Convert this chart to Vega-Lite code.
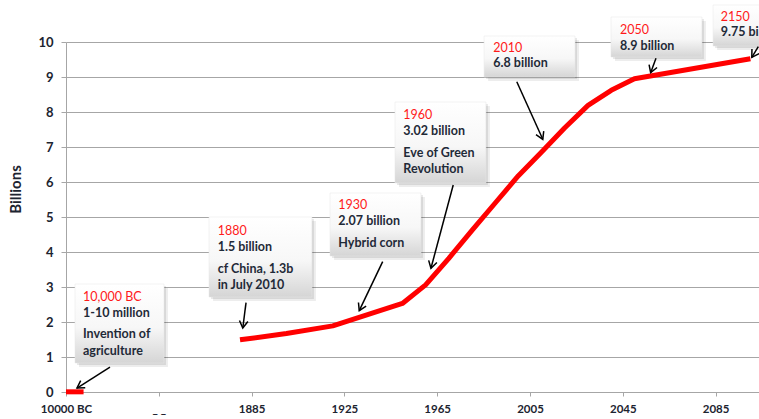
{
  "$schema": "https://vega.github.io/schema/vega-lite/v6.json",
  "width": 693,
  "height": 350,
  "autosize": "none",
  "padding": {"left": 66, "top": 42, "right": 0, "bottom": 27},
  "background": "white",
  "config": {"view": {"stroke": null}, "font": "Lato"},
  "datasets": {
    "pop": [
      {"year": -10000, "billions": 0.005, "era": "ancient"},
      {"year": -8800, "billions": 0.005, "era": "ancient"},
      {"year": 1880, "billions": 1.49, "era": "modern"},
      {"year": 1900, "billions": 1.67, "era": "modern"},
      {"year": 1920, "billions": 1.89, "era": "modern"},
      {"year": 1950, "billions": 2.53, "era": "modern"},
      {"year": 1960, "billions": 3.06, "era": "modern"},
      {"year": 1970, "billions": 3.82, "era": "modern"},
      {"year": 1980, "billions": 4.62, "era": "modern"},
      {"year": 1990, "billions": 5.4, "era": "modern"},
      {"year": 2000, "billions": 6.18, "era": "modern"},
      {"year": 2010, "billions": 6.86, "era": "modern"},
      {"year": 2020, "billions": 7.55, "era": "modern"},
      {"year": 2030, "billions": 8.19, "era": "modern"},
      {"year": 2040, "billions": 8.62, "era": "modern"},
      {"year": 2050, "billions": 8.95, "era": "modern"},
      {"year": 2100, "billions": 9.52, "era": "modern"}
    ],
    "boxes": [
      {"id": "10000BC", "year": -9386, "year2": -3309, "billions": 3.086, "billions2": 0.829},
      {"id": "1880", "year": -236, "year2": 1911.0, "billions": 5.0, "billions2": 2.714},
      {"id": "1930", "year": 1918.8, "year2": 1958.0, "billions": 5.686, "billions2": 3.886},
      {"id": "1960", "year": 1946.8, "year2": 1986.0, "billions": 8.286, "billions2": 5.971},
      {"id": "2010", "year": 1985.2, "year2": 2024.4, "billions": 10.171, "billions2": 9.0},
      {"id": "2050", "year": 2039.9, "year2": 2079.1, "billions": 10.714, "billions2": 9.571},
      {"id": "2150", "year": 2083.9, "year2": 2125, "billions": 11.057, "billions2": 9.886}
    ],
    "notes": [
      {"year": -8839, "billions": 2.723, "text": "10,000 BC", "kind": "year"},
      {"year": -8839, "billions": 2.266, "text": "1-10 million", "kind": "note"},
      {"year": -8839, "billions": 1.649, "text": "Invention of", "kind": "note"},
      {"year": -8839, "billions": 1.171, "text": "agriculture", "kind": "note"},
      {"year": 357, "billions": 4.609, "text": "1880", "kind": "year"},
      {"year": 357, "billions": 4.151, "text": "1.5 billion", "kind": "note"},
      {"year": 357, "billions": 3.506, "text": "cf China, 1.3b", "kind": "note"},
      {"year": 357, "billions": 3.057, "text": "in July 2010", "kind": "note"},
      {"year": 1922.4, "billions": 5.343, "text": "1930", "kind": "year"},
      {"year": 1922.4, "billions": 4.894, "text": "2.07 billion", "kind": "note"},
      {"year": 1922.4, "billions": 4.249, "text": "Hybrid corn", "kind": "note"},
      {"year": 1950.4, "billions": 7.914, "text": "1960", "kind": "year"},
      {"year": 1950.4, "billions": 7.466, "text": "3.02 billion", "kind": "note"},
      {"year": 1950.4, "billions": 6.82, "text": "Eve of Green", "kind": "note"},
      {"year": 1950.4, "billions": 6.371, "text": "Revolution", "kind": "note"},
      {"year": 1989.2, "billions": 9.82, "text": "2010", "kind": "year"},
      {"year": 1989.2, "billions": 9.391, "text": "6.8 billion", "kind": "note"},
      {"year": 2043.8, "billions": 10.343, "text": "2050", "kind": "year"},
      {"year": 2043.8, "billions": 9.894, "text": "8.9 billion", "kind": "note"},
      {"year": 2087.2, "billions": 10.723, "text": "2150", "kind": "year"},
      {"year": 2087.2, "billions": 10.277, "text": "9.75 billion", "kind": "note"}
    ],
    "arrows": [
      {"year": -6996, "billions": 0.714, "year2": -9249, "billions2": 0.114, "angle": 57.5},
      {"year": 1882.6, "billions": 2.551, "year2": 1881.2, "billions2": 1.829, "angle": 7.4},
      {"year": 1941.5, "billions": 3.723, "year2": 1931.4, "billions2": 2.323, "angle": 25.5},
      {"year": 1971.9, "billions": 5.914, "year2": 1962.3, "billions2": 3.534, "angle": 15},
      {"year": 1999.3, "billions": 8.866, "year2": 2010.5, "billions2": 7.22, "angle": -24.3},
      {"year": 2059.3, "billions": 9.534, "year2": 2057.0, "billions2": 9.123, "angle": 20},
      {"year": 2103.4, "billions": 9.866, "year2": 2100.6, "billions2": 9.563, "angle": 32}
    ]
  },
  "encoding": {
    "x": {
      "field": "year", "type": "quantitative",
      "scale": {"domain": [-10000, 1880, 2103.7], "range": [0, 174, 693], "nice": false, "zero": false},
      "axis": {
        "title": null,
        "values": [-10000, -3664, 1885, 1925, 1965, 2005, 2045, 2085],
        "labelExpr": "datum.value == -10000 ? '10000 BC' : datum.value < 1000 ? '_ _' : '' + datum.value",
        "grid": false,
        "domainColor": "#a6a6a6",
        "tickColor": "#a6a6a6",
        "tickSize": 4,
        "labelPadding": 7,
        "labelFont": "Lato",
        "labelFontSize": 11.5,
        "labelFontWeight": "bold",
        "labelColor": "#1c2430",
        "labelOverlap": false,
        "labelFlush": false
      }
    },
    "y": {
      "field": "billions", "type": "quantitative",
      "scale": {"domain": [0, 10], "nice": false},
      "axis": {
        "title": "Billions",
        "titleFont": "Lato",
        "titleFontSize": 15,
        "titleFontWeight": "bold",
        "titleColor": "#1c2430",
        "titleAngle": -90,
        "titleAlign": "center",
        "titleBaseline": "middle",
        "titleX": -51,
        "titleY": 147,
        "values": [0, 1, 2, 3, 4, 5, 6, 7, 8, 9, 10],
        "grid": true,
        "gridColor": "#a6a6a6",
        "gridWidth": 1,
        "domainColor": "#a6a6a6",
        "tickColor": "#a6a6a6",
        "tickSize": 5,
        "labelPadding": 8,
        "labelOverlap": false,
        "labelFont": "Lato",
        "labelFontSize": 13,
        "labelFontWeight": "bold",
        "labelColor": "#1c2430"
      }
    }
  },
  "layer": [
    {
      "data": {"name": "pop"},
      "mark": {"type": "line", "color": "#ff0000", "strokeWidth": 5, "strokeCap": "butt", "strokeJoin": "round"},
      "encoding": {"detail": {"field": "era"}}
    },
    {
      "data": {"name": "boxes"},
      "mark": {"type": "rect", "fill": "#000000", "opacity": 0.07, "xOffset": 4, "x2Offset": 4, "yOffset": 4, "y2Offset": 4},
      "encoding": {"x2": {"field": "year2"}, "y2": {"field": "billions2"}}
    },
    {
      "data": {"name": "boxes"},
      "mark": {"type": "rect", "fill": "#000000", "opacity": 0.09, "xOffset": 2, "x2Offset": 2, "yOffset": 2, "y2Offset": 2},
      "encoding": {"x2": {"field": "year2"}, "y2": {"field": "billions2"}}
    },
    {
      "data": {"name": "boxes"},
      "mark": {
        "type": "rect",
        "fill": {"gradient": "linear", "x1": 0, "y1": 0, "x2": 0, "y2": 1,
          "stops": [{"offset": 0, "color": "#ffffff"}, {"offset": 0.55, "color": "#f7f7f7"}, {"offset": 1, "color": "#d5d5d5"}]},
        "stroke": "#e6e6e6",
        "strokeWidth": 0.5
      },
      "encoding": {"x2": {"field": "year2"}, "y2": {"field": "billions2"}}
    },
    {
      "data": {"name": "notes"},
      "transform": [{"filter": "datum.kind == 'year'"}],
      "mark": {"type": "text", "align": "left", "baseline": "middle", "font": "Lato", "fontSize": 12.5, "fontWeight": "normal", "color": "#ff1a1a"},
      "encoding": {"text": {"field": "text"}}
    },
    {
      "data": {"name": "notes"},
      "transform": [{"filter": "datum.kind == 'note'"}],
      "mark": {"type": "text", "align": "left", "baseline": "middle", "font": "Lato", "fontSize": 12.5, "fontWeight": "bold", "color": "#1f2a38"},
      "encoding": {"text": {"field": "text"}}
    },
    {
      "data": {"name": "arrows"},
      "mark": {"type": "rule", "color": "#000000", "strokeWidth": 1.5},
      "encoding": {"x2": {"field": "year2"}, "y2": {"field": "billions2"}}
    },
    {
      "data": {"name": "arrows"},
      "mark": {"type": "point", "shape": "M-0.6,-1L0,0L0.6,-1", "filled": false, "stroke": "#000000", "strokeWidth": 1.5, "size": 200, "opacity": 1},
      "encoding": {
        "x": {"field": "year2", "type": "quantitative"},
        "y": {"field": "billions2", "type": "quantitative"},
        "angle": {"field": "angle", "type": "quantitative", "scale": null}
      }
    }
  ]
}
